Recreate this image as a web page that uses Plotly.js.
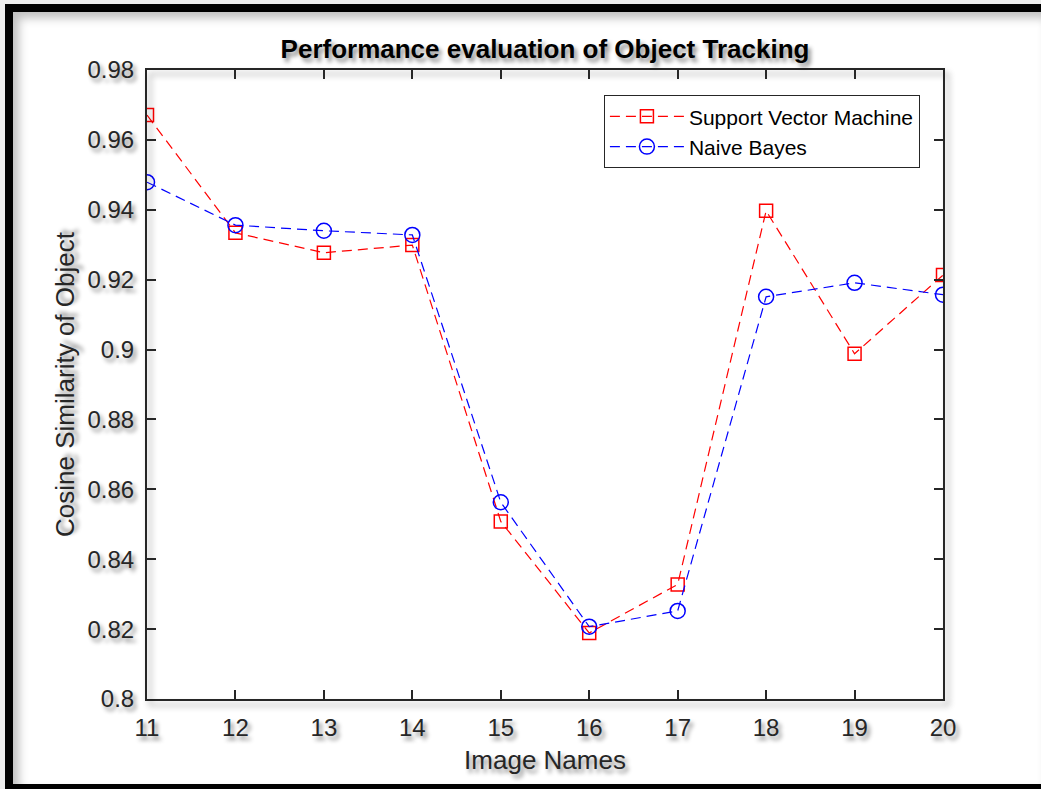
<!DOCTYPE html>
<html>
<head>
<meta charset="utf-8">
<script src="https://cdn.plot.ly/plotly-3.0.1.min.js"></script>
<style>
  html, body { margin: 0; padding: 0; background: #ececec; }
  #frame { position: absolute; left: 5px; top: 4px; width: 1036px; height: 785px;
           box-sizing: border-box; border-left: 8px solid #000; border-top: 8px solid #000;
           border-bottom: 5px solid #000; background: #fff;
           box-shadow: inset 6px 6px 10px rgba(0,0,0,0.25); }
  #chart { position: absolute; left: 0; top: 0; width: 1041px; height: 789px; }
  path.xlines-above, path.ylines-above { filter: drop-shadow(4px 5px 3px rgba(0,0,0,0.35)); }
</style>
</head>
<body>
<div id="frame"></div>
<div id="chart"></div>
<script>
const imageNames = [11, 12, 13, 14, 15, 16, 17, 18, 19, 20];
const svmValues = [0.9671, 0.9334, 0.9277, 0.9299, 0.8508, 0.8189, 0.8328, 0.9397, 0.8988, 0.9213];
const nbValues  = [0.9479, 0.9356, 0.9340, 0.9328, 0.8563, 0.8207, 0.8252, 0.9151, 0.9191, 0.9157];
const yTicks = [0.8, 0.82, 0.84, 0.86, 0.88, 0.9, 0.92, 0.94, 0.96, 0.98];
const yTickText = ['0.8', '0.82', '0.84', '0.86', '0.88', '0.9', '0.92', '0.94', '0.96', '0.98'];

const shadow = '3px 4px 4px rgba(0,0,0,0.45)';
const txtFont = { family: 'Liberation Sans, Arial, sans-serif', color: '#262626', shadow: shadow };

const traces = [
  { x: imageNames, y: svmValues, name: 'Support Vector Machine', mode: 'lines+markers',
    line: { color: '#ff0000', width: 1.2, dash: '10px,6px' },
    marker: { symbol: 'square-open', size: 13, color: '#ff0000', line: { width: 1.5, color: '#ff0000' } } },
  { x: imageNames, y: nbValues, name: 'Naive Bayes', mode: 'lines+markers',
    line: { color: '#0000ff', width: 1.2, dash: '10px,6px' },
    marker: { symbol: 'circle-open', size: 15, color: '#0000ff', line: { width: 1.5, color: '#0000ff' } } }
];

const axisCommon = {
  showline: true, linecolor: '#262626', linewidth: 2, mirror: 'ticks',
  ticks: 'inside', ticklen: 9, tickwidth: 2, tickcolor: '#262626',
  showgrid: false, zeroline: false,
  tickfont: Object.assign({}, txtFont, { size: 24 })
};

const layout = {
  width: 1041, height: 789,
  paper_bgcolor: 'rgba(0,0,0,0)', plot_bgcolor: '#ffffff',
  margin: { l: 147, r: 98, t: 70, b: 90, pad: 0 },
  title: { text: '<b>Performance evaluation of Object Tracking</b>',
           font: Object.assign({}, txtFont, { size: 26, color: '#000' }),
           xref: 'paper', x: 0.5, xanchor: 'center', y: 0.926, yanchor: 'bottom' },
  xaxis: Object.assign({}, axisCommon, {
    range: [11, 20], tickmode: 'array', tickvals: imageNames, ticktext: imageNames.map(String),
    ticklabelstandoff: 6,
    title: { text: 'Image Names', font: Object.assign({}, txtFont, { size: 26 }), standoff: 11 }
  }),
  yaxis: Object.assign({}, axisCommon, {
    range: [0.8, 0.98], tickmode: 'array', tickvals: yTicks, ticktext: yTickText,
    ticklabelstandoff: 6,
    title: { text: 'Cosine Similarity of Object', font: Object.assign({}, txtFont, { size: 26 }), standoff: 5 }
  }),
  legend: { x: 0.971, xanchor: 'right', y: 0.96, yanchor: 'top',
            bgcolor: '#ffffff', bordercolor: '#262626', borderwidth: 1,
            font: { family: 'Liberation Sans, Arial, sans-serif', size: 21, color: '#000' },
            itemwidth: 74, tracegroupgap: 0 },
  showlegend: true
};

Plotly.newPlot('chart', traces, layout, { displayModeBar: false, staticPlot: true });
</script>
</body>
</html>
